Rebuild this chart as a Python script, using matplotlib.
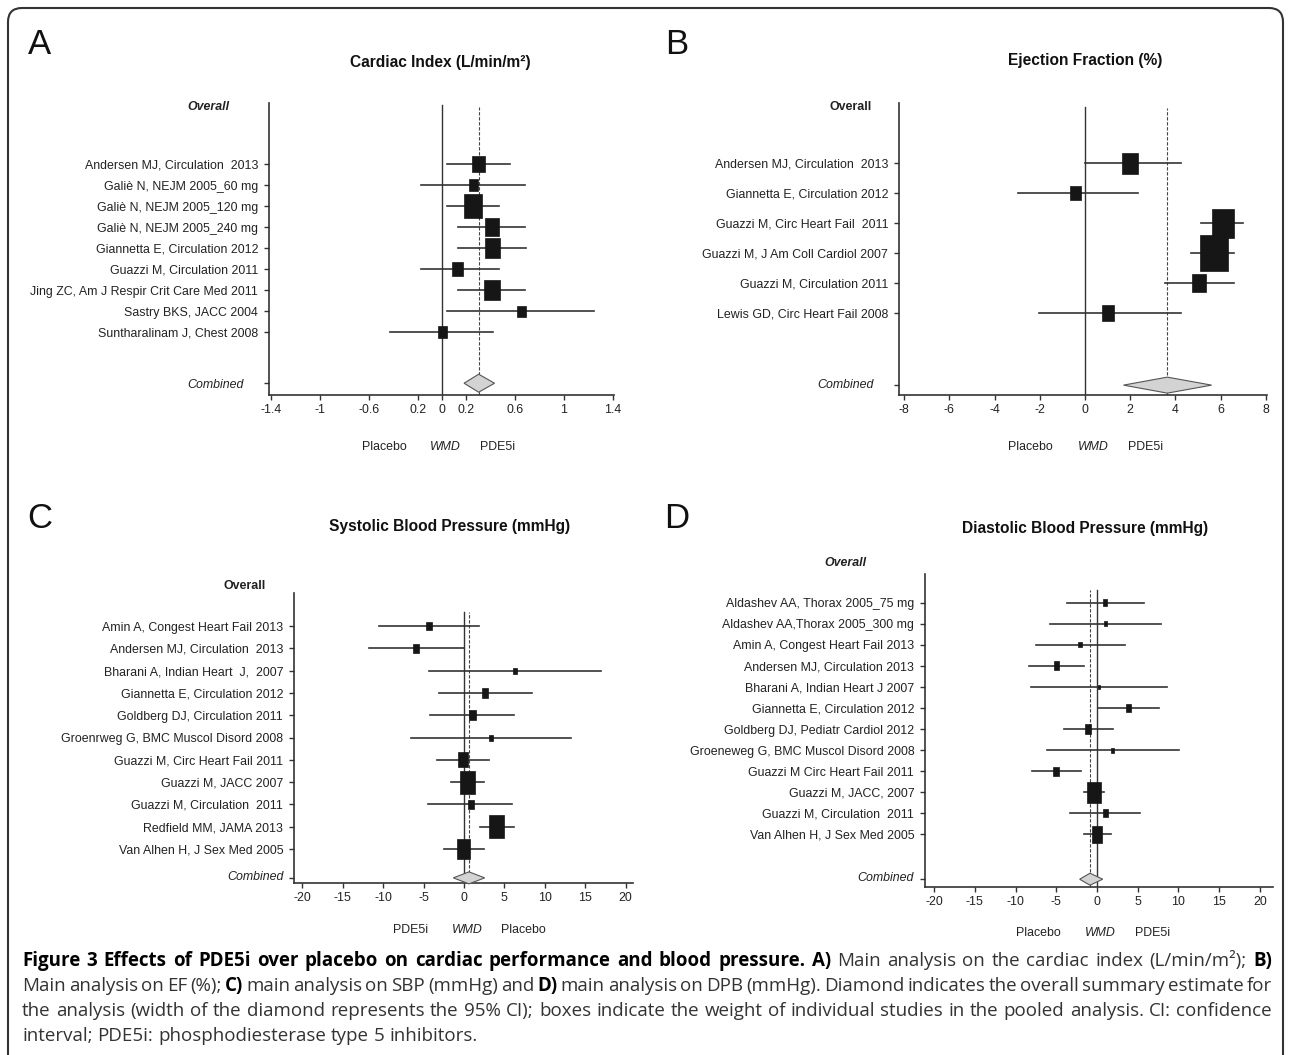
import matplotlib
matplotlib.use("Agg")
import matplotlib.pyplot as plt
from matplotlib.patches import Rectangle, Polygon, FancyBboxPatch
from matplotlib.transforms import IdentityTransform
import numpy as np

W, H, DPI = 1290, 1055, 100
plt.rcParams['font.family'] = ['Liberation Sans', 'DejaVu Sans']

# ---------------- data ----------------
# Panel A: Cardiac index
a_studies = ["Andersen MJ, Circulation  2013", "Galiè N, NEJM 2005_60 mg", "Galiè N, NEJM 2005_120 mg",
             "Galiè N, NEJM 2005_240 mg", "Giannetta E, Circulation 2012", "Guazzi M, Circulation 2011",
             "Jing ZC, Am J Respir Crit Care Med 2011", "Sastry BKS, JACC 2004", "Suntharalinam J, Chest 2008"]
a_mean = [0.30, 0.26, 0.25, 0.41, 0.41, 0.13, 0.41, 0.65, 0.00]
a_lo = [0.04, -0.17, 0.04, 0.13, 0.13, -0.17, 0.13, 0.04, -0.43]
a_hi = [0.56, 0.68, 0.47, 0.68, 0.69, 0.47, 0.68, 1.25, 0.42]
a_weight = [14.7, 10.5, 20.5, 16.0, 17.1, 12.6, 17.7, 9.9, 10.5]
a_combined = [0.18, 0.30, 0.43]
a_ticks = [-1.4, -1, -0.6, -0.2, 0, 0.2, 0.6, 1, 1.4]
a_ticklabels = ["-1.4", "-1", "-0.6", "0.2", "0", "0.2", "0.6", "1", "1.4"]

# Panel B: Ejection fraction
b_studies = ["Andersen MJ, Circulation  2013", "Giannetta E, Circulation 2012", "Guazzi M, Circ Heart Fail  2011",
             "Guazzi M, J Am Coll Cardiol 2007", "Guazzi M, Circulation 2011", "Lewis GD, Circ Heart Fail 2008"]
b_mean = [2.0, -0.43, 6.1, 5.72, 5.03, 1.0]
b_lo = [0.0, -2.95, 5.15, 4.69, 3.54, -2.04]
b_hi = [4.23, 2.36, 6.98, 6.6, 6.6, 4.23]
b_weight = [18.3, 12.2, 25.4, 31.6, 15.5, 13.9]
b_combined = [1.70, 3.64, 5.60]
b_ticks = [-8, -6, -4, -2, 0, 2, 4, 6, 8]
b_ticklabels = ["-8", "-6", "-4", "-2", "0", "2", "4", "6", "8"]

# Panel C: Systolic blood pressure
c_studies = ["Amin A, Congest Heart Fail 2013", "Andersen MJ, Circulation  2013", "Bharani A, Indian Heart  J,  2007",
             "Giannetta E, Circulation 2012", "Goldberg DJ, Circulation 2011", "Groenrweg G, BMC Muscol Disord 2008",
             "Guazzi M, Circ Heart Fail 2011", "Guazzi M, JACC 2007", "Guazzi M, Circulation  2011",
             "Redfield MM, JAMA 2013", "Van Alhen H, J Sex Med 2005"]
c_mean = [-4.29, -5.98, 6.35, 2.6, 1.1, 3.4, -0.1, 0.4, 0.87, 4.0, -0.1]
c_lo = [-10.56, -11.8, -4.29, -3.1, -4.2, -6.5, -3.3, -1.65, -4.5, 1.98, -2.5]
c_hi = [1.9, 0.0, 16.9, 8.4, 6.2, 13.3, 3.05, 2.5, 5.96, 6.2, 2.5]
c_weight = [7.3, 7.3, 4.9, 7.7, 8.4, 4.9, 12.2, 18.6, 7.7, 18.6, 15.7]
c_combined = [-1.32, 0.62, 2.56]
c_ticks = [-20, -15, -10, -5, 0, 5, 10, 15, 20]
c_ticklabels = ["-20", "-15", "-10", "-5", "0", "5", "10", "15", "20"]

# Panel D: Diastolic blood pressure
d_studies = ["Aldashev AA, Thorax 2005_75 mg", "Aldashev AA,Thorax 2005_300 mg", "Amin A, Congest Heart Fail 2013",
             "Andersen MJ, Circulation 2013", "Bharani A, Indian Heart J 2007", "Giannetta E, Circulation 2012",
             "Goldberg DJ, Pediatr Cardiol 2012", "Groeneweg G, BMC Muscol Disord 2008",
             "Guazzi M Circ Heart Fail 2011", "Guazzi M, JACC, 2007", "Guazzi M, Circulation  2011",
             "Van Alhen H, J Sex Med 2005"]
d_mean = [1.02, 1.02, -2.1, -5.0, 0.25, 3.9, -1.1, 1.93, -5.0, -0.37, 1.02, 0.04]
d_lo = [-3.69, -5.8, -7.5, -8.4, -8.16, 0.08, -4.1, -6.2, -7.95, -1.64, -3.36, -1.64]
d_hi = [5.78, 7.9, 3.4, -1.64, 8.65, 7.66, 1.97, 10.1, -1.92, 0.9, 5.29, 1.68]
d_weight = [5.3, 3.9, 4.2, 6.9, 3.5, 6.3, 7.7, 3.9, 7.3, 16.5, 6.0, 13.0]
d_combined = [-2.13, -0.86, 0.70]
d_ticks = c_ticks
d_ticklabels = c_ticklabels

# ---------------- figure ----------------
fig = plt.figure(figsize=(W / DPI, H / DPI), dpi=DPI)
fig.patch.set_facecolor('white')

TXT = '#222222'
LINE = '#333333'
LAB_FS = 8.9


def fx(px):
    return px / W


def fy(py):
    return 1 - py / H


def draw_panel(names, mean, lo, hi, weight, comb, ticks, ticklabels, cfg):
    left, top, right, bottom = cfg['box']
    ax = fig.add_axes([fx(left), fy(bottom), (right - left) / W, (bottom - top) / H])
    ax.set_xlim(*cfg['xlim'])
    ax.set_ylim(*cfg['ylim'])
    ppx = (right - left) / (cfg['xlim'][1] - cfg['xlim'][0])
    ppy = (bottom - top) / (cfg['ylim'][0] - cfg['ylim'][1])
    n = len(names)
    rows = np.arange(n)
    cy = cfg['comb_y']
    # reference lines
    ax.plot([0, 0], [cfg['ylim'][0], cfg['zero_top']], color=LINE, lw=1.0, zorder=1)
    ax.plot([comb[1], comb[1]], [cfg['ylim'][0], cfg['dash_top']], color='#444444', lw=0.8,
            ls=(0, (3, 1.5)), zorder=1)
    # CIs and boxes
    asp = np.sqrt(cfg['aspect'])
    for i in range(n):
        ax.plot([lo[i], hi[i]], [rows[i], rows[i]], color=LINE, lw=1.2, zorder=2)
        wd = weight[i] / asp / ppx
        ht = weight[i] * asp / ppy
        ax.add_patch(Rectangle((mean[i] - wd / 2, rows[i] - ht / 2), wd, ht,
                               facecolor='#161616', edgecolor='#161616', lw=0.5, zorder=3))
    dh = cfg['diamond_h'] / 2 / ppy
    ax.add_patch(Polygon([[comb[0], cy], [comb[1], cy - dh], [comb[2], cy], [comb[1], cy + dh]],
                         closed=True, facecolor='#d3d3d3', edgecolor='#555555', lw=0.8, zorder=3,
                         clip_on=False))
    # axes styling
    for s in ['top', 'right']:
        ax.spines[s].set_visible(False)
    for s in ['left', 'bottom']:
        ax.spines[s].set_color(LINE)
        ax.spines[s].set_linewidth(1.2)
    ax.set_yticks(list(rows) + [cy])
    ax.set_yticklabels(list(names) + [''])
    ax.set_xticks(ticks)
    ax.set_xticklabels(ticklabels)
    ax.tick_params(axis='y', direction='out', length=3.8, width=1.0, color=LINE, pad=4,
                   labelsize=LAB_FS, labelcolor=TXT)
    ax.tick_params(axis='x', direction='out', length=3.8, width=1.0, color=LINE, pad=3,
                   labelsize=LAB_FS, labelcolor=TXT)
    ax.patch.set_alpha(0)
    # labels
    ox, oy, ow, ost = cfg['overall']
    fig.text(fx(ox), fy(oy), 'Overall', ha='center', va='center', fontsize=LAB_FS,
             fontweight=ow, fontstyle=ost, color=TXT)
    cx, cyy = cfg['combined']
    fig.text(fx(cx), fy(cyy), 'Combined', ha='center', va='center', fontsize=LAB_FS,
             fontstyle='italic', color=TXT)
    t, tx, ty = cfg['title']
    fig.text(fx(tx), fy(ty), t, ha='center', va='center', fontsize=11.2, fontweight='bold', color='#111111')
    l, lx, ly = cfg['letter']
    fig.text(fx(lx), fy(ly), l, ha='center', va='center', fontsize=25, color='#111111')
    by = cfg['bottom_y']
    for txt, bx, st in cfg['bottom']:
        fig.text(fx(bx), fy(by), txt, ha='center', va='center', fontsize=LAB_FS, fontstyle=st, color=TXT)
    return ax


cfgA = dict(box=(269, 103, 614, 395), xlim=(-1.42, 1.41), ylim=(10.98, -2.9), comb_y=10.42,
            zero_top=-2.8, dash_top=-2.7, diamond_h=18, aspect=1.3,
            overall=(208, 107, 'bold', 'italic'), combined=(215, 385),
            title=("Cardiac Index (L/min/m²)", 440, 62), letter=("A", 40, 45),
            bottom_y=447, bottom=[("Placebo", 384, 'normal'), ("WMD", 445, 'italic'), ("PDE5i", 498, 'normal')])
cfgB = dict(box=(899, 103, 1267, 395), xlim=(-8.23, 8.05), ylim=(7.75, -2.02), comb_y=7.42,
            zero_top=-1.88, dash_top=-1.85, diamond_h=16, aspect=1.3,
            overall=(851, 107, 'bold', 'normal'), combined=(845, 385),
            title=("Ejection Fraction (%)", 1085, 60), letter=("B", 677, 45),
            bottom_y=447, bottom=[("Placebo", 1030, 'normal'), ("WMD", 1093, 'italic'), ("PDE5i", 1146, 'normal')])
cfgC = dict(box=(294, 593, 633, 883), xlim=(-21.04, 20.92), ylim=(11.52, -1.48), comb_y=11.29,
            zero_top=-0.63, dash_top=-0.63, diamond_h=12, aspect=1.5,
            overall=(245, 586, 'bold', 'normal'), combined=(256, 877),
            title=("Systolic Blood Pressure (mmHg)", 450, 527), letter=("C", 40, 518),
            bottom_y=930, bottom=[("PDE5i", 411, 'normal'), ("WMD", 467, 'italic'), ("Placebo", 523, 'normal')])
cfgD = dict(box=(925, 574, 1273, 887), xlim=(-21.13, 21.62), ylim=(13.5, -1.36), comb_y=13.13,
            zero_top=-0.6, dash_top=-0.6, diamond_h=12, aspect=1.6,
            overall=(845, 563, 'bold', 'italic'), combined=(885, 878),
            title=("Diastolic Blood Pressure (mmHg)", 1085, 528), letter=("D", 677, 518),
            bottom_y=933, bottom=[("Placebo", 1038, 'normal'), ("WMD", 1100, 'italic'), ("PDE5i", 1153, 'normal')])

draw_panel(a_studies, a_mean, a_lo, a_hi, a_weight, a_combined, a_ticks, a_ticklabels, cfgA)
draw_panel(b_studies, b_mean, b_lo, b_hi, b_weight, b_combined, b_ticks, b_ticklabels, cfgB)
draw_panel(c_studies, c_mean, c_lo, c_hi, c_weight, c_combined, c_ticks, c_ticklabels, cfgC)
draw_panel(d_studies, d_mean, d_lo, d_hi, d_weight, d_combined, d_ticks, d_ticklabels, cfgD)

# ---------------- border ----------------
fig.patches.append(FancyBboxPatch((8, -30), 1275, H - 8 + 30, boxstyle="round,pad=0,rounding_size=14",
                                  transform=IdentityTransform(), facecolor='none',
                                  edgecolor='#333333', lw=1.5, figure=fig))

# ---------------- caption ----------------
caption_lines = [
    [("Figure 3 Effects of PDE5i over placebo on cardiac performance and blood pressure. A)", True),
     ("Main analysis on the cardiac index (L/min/m²);", False), ("B)", True)],
    [("Main analysis on EF (%);", False), ("C)", True), ("main analysis on SBP (mmHg) and", False),
     ("D)", True), ("main analysis on DPB (mmHg). Diamond indicates the overall summary estimate for", False)],
    [("the analysis (width of the diamond represents the 95% CI); boxes indicate the weight of individual "
      "studies in the pooled analysis. CI: confidence", False)],
    [("interval; PDE5i: phosphodiesterase type 5 inhibitors.", False)],
]
cap_base = [966, 991, 1016, 1041]
CAP_FAM = ['Open Sans', 'DejaVu Sans']
renderer = fig.canvas.get_renderer()
x0, x1 = 22, 1272


def words_of(line):
    out = []
    for seg, bold in line:
        for w in seg.split(' '):
            if w:
                out.append((w, bold))
    return out


def natural_width(line, fs):
    tmp = []
    for seg, bold in line:
        tmp.append(seg)
    bold_any = line[0][1]
    t = fig.text(0, 0, ' '.join(tmp), fontsize=fs, family=CAP_FAM,
                 fontweight='bold' if bold_any else 'normal')
    w = t.get_window_extent(renderer).width
    t.remove()
    return w


# font size chosen so that the longest plain line fills the text width naturally
base_fs = 10.0
CAP_FS = base_fs * (x1 - x0) / natural_width(caption_lines[2], base_fs) * 0.995

sp_t = fig.text(0, 0, 'a a', fontsize=CAP_FS, family=CAP_FAM)
sp_t2 = fig.text(0, 0, 'aa', fontsize=CAP_FS, family=CAP_FAM)
space_w = sp_t.get_window_extent(renderer).width - sp_t2.get_window_extent(renderer).width
sp_t.remove()
sp_t2.remove()
for li, (line, base) in enumerate(zip(caption_lines, cap_base)):
    words = words_of(line)
    texts = []
    for w, bold in words:
        t = fig.text(0, fy(base), w, fontsize=CAP_FS, family=CAP_FAM,
                     fontweight='bold' if bold else 'normal',
                     color='#000000' if bold else '#333333', ha='left', va='baseline')
        texts.append(t)
    widths = [t.get_window_extent(renderer).width for t in texts]
    if li < len(caption_lines) - 1 and len(words) > 1:
        gap = (x1 - x0 - sum(widths)) / (len(words) - 1)
        gap = max(gap, space_w * 0.6)
    else:
        gap = space_w
    x = x0
    for t, wdt in zip(texts, widths):
        t.set_x(fx(x))
        x += wdt + gap

fig.savefig('out.png', dpi=DPI)
